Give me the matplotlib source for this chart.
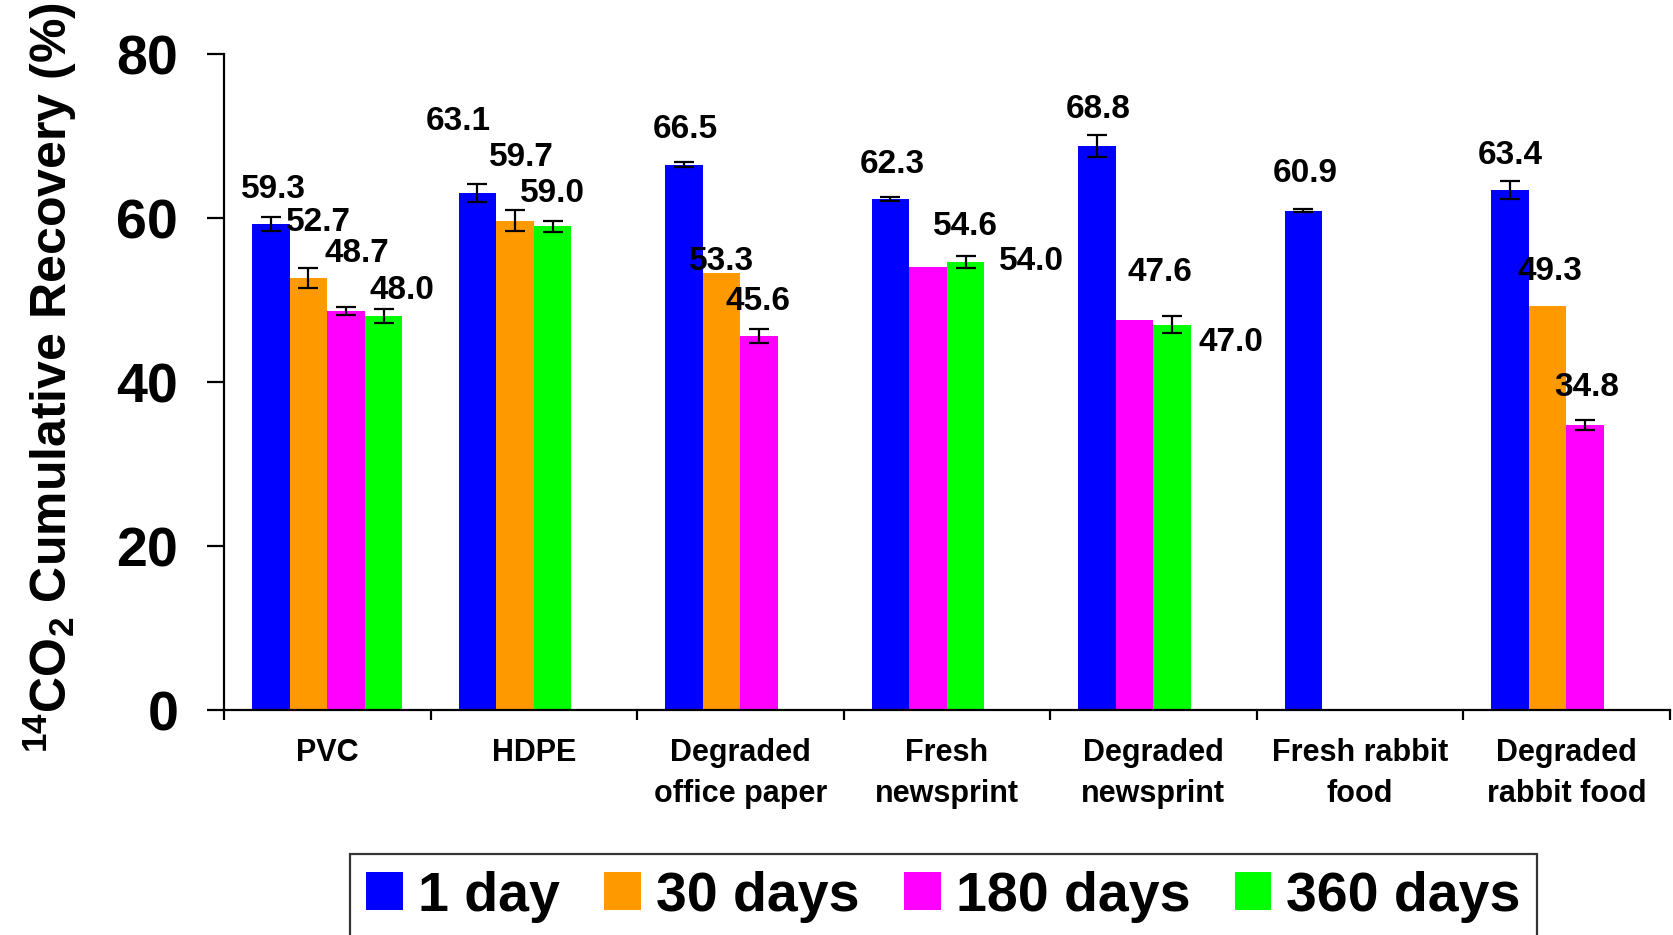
import numpy as np
import matplotlib
matplotlib.use("Agg")
import matplotlib.pyplot as plt
from matplotlib.patches import Patch

plt.rcParams['font.family'] = ['Liberation Sans', 'DejaVu Sans']
plt.rcParams['font.weight'] = 'bold'
plt.rcParams['mathtext.fontset'] = 'custom'
plt.rcParams['mathtext.rm'] = 'Liberation Sans:bold'
plt.rcParams['mathtext.bf'] = 'Liberation Sans:bold'

categories = ["PVC", "HDPE", "Degraded\noffice paper", "Fresh\nnewsprint",
              "Degraded\nnewsprint", "Fresh rabbit\nfood", "Degraded\nrabbit food"]
series_names = ["1 day", "30 days", "180 days", "360 days"]
colors = ["#0000FF", "#FF9900", "#FF00FF", "#00FF00"]

nan = np.nan
day1 = [59.3, 63.1, 66.5, 62.3, 68.8, 60.9, 63.4]
day30 = [52.7, 59.7, 53.3, nan, nan, nan, 49.3]
day180 = [48.7, nan, 45.6, 54.0, 47.6, nan, 34.8]
day360 = [48.0, 59.0, nan, 54.6, 47.0, nan, nan]

err1 = [0.85, 1.1, 0.3, 0.25, 1.3, 0.15, 1.1]
err30 = [1.2, 1.3, 0.0, nan, nan, nan, 0.0]
err180 = [0.5, nan, 0.85, 0.0, 0.0, nan, 0.6]
err360 = [0.85, 0.7, nan, 0.75, 1.0, nan, nan]

# label offsets (points) from top of each bar, hand-placed like the original
off1 = [(1.5, 25), (-14, 51), (1, 25.6), (1, 25), (1, 26), (1, 26.4), (0, 25.3)]
off30 = [(7, 40), (4.6, 45.7), (0, 8), None, None, None, (1.5, 24.6)]
off180 = [(7.7, 41.5), None, (-1, 25), (74.5, 4), (18, 33.8), None, (1, 27)]
off360 = [(13, 18.4), (0, 23.8), None, (0, 25.8), (42, -13), None, None]

values = [day1, day30, day180, day360]
errors = [err1, err30, err180, err360]
offsets = [off1, off30, off180, off360]

fig = plt.figure(figsize=(16.73, 9.35), dpi=100)
ax = fig.add_axes([0.1339, 0.2406, 0.998 - 0.1339, 0.9422 - 0.2406])

w = 0.182
for i in range(len(categories)):
    slot = 0
    for s in range(4):
        v = values[s][i]
        if np.isnan(v):
            continue
        x = i + (slot - 1.5) * w
        ax.bar(x, v, width=w, color=colors[s], linewidth=0, zorder=2)
        e = errors[s][i]
        if e > 0:
            ax.errorbar(x, v, yerr=e, fmt='none', ecolor='black', elinewidth=1.6,
                        capsize=7, capthick=1.6, zorder=3)
        dx, dy = offsets[s][i]
        ax.annotate(f"{v:.1f}", (x, v), xytext=(dx, dy), textcoords='offset points',
                    ha='center', va='center', fontsize=24, fontweight='bold', zorder=4)
        slot += 1

ax.set_xlim(-0.5, len(categories) - 0.5)
ax.set_ylim(0, 80)
ax.set_yticks([0, 20, 40, 60, 80])
ax.tick_params(axis='y', labelsize=40, width=1.6, length=12, pad=21)
ax.set_xticks(range(len(categories)))
ax.set_xticklabels(categories, fontsize=22, fontweight='bold')
ax.set_xticks(np.arange(-0.5, len(categories)), minor=True)
ax.tick_params(axis='x', which='major', length=0, pad=20)
ax.tick_params(axis='x', which='minor', length=7, width=1.6)
for lbl in ax.get_xticklabels():
    lbl.set_linespacing(1.47)
for lbl in ax.get_yticklabels():
    lbl.set_fontweight('bold')

for side in ['top', 'right']:
    ax.spines[side].set_visible(False)
for side in ['left', 'bottom']:
    ax.spines[side].set_linewidth(1.6)

ax.set_ylabel(r"$^{14}$CO$_2$ Cumulative Recovery (%)", fontsize=36, fontweight='bold')
ax.yaxis.set_label_coords(-0.1, 0.506)

handles = [Patch(facecolor=c, edgecolor='none') for c in colors]
leg = fig.legend(handles, series_names, loc='upper center', ncol=4,
                 bbox_to_anchor=(0.564, 0.0866), bbox_transform=fig.transFigure,
                 prop={'size': 40, 'weight': 'bold'}, frameon=True, fancybox=False,
                 handlelength=0.66, handleheight=0.66, handletextpad=0.27,
                 columnspacing=0.8, borderpad=0.3, borderaxespad=0)
leg.get_frame().set_edgecolor('black')
leg.get_frame().set_linewidth(1.6)

fig.savefig("out.png", dpi=100)
